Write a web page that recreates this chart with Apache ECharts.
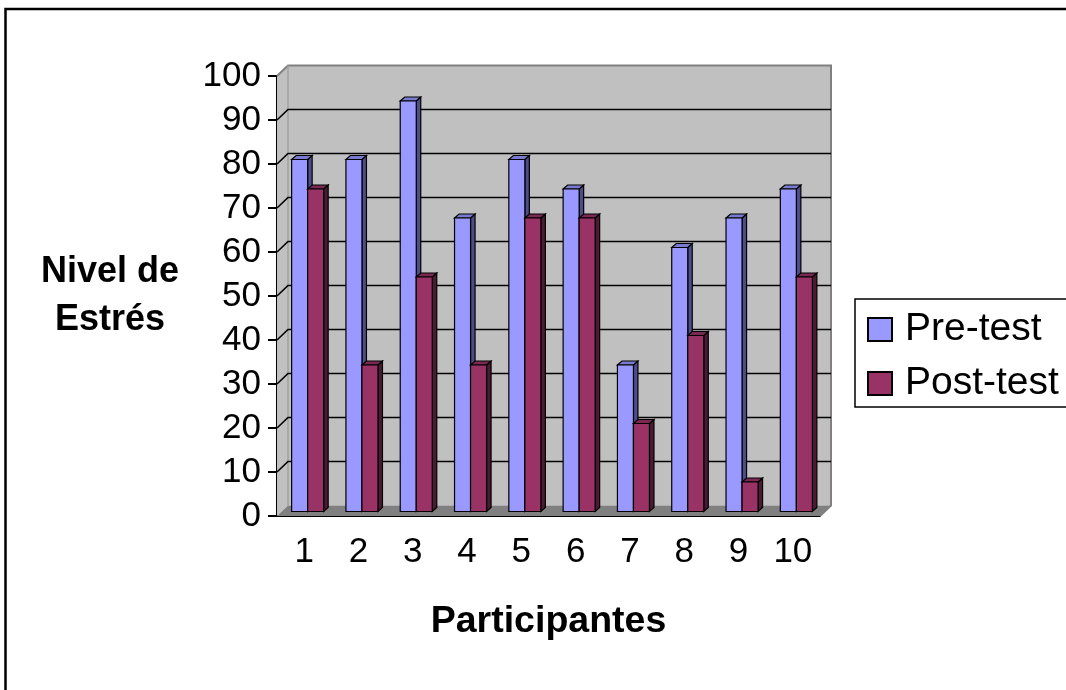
<!DOCTYPE html>
<html>
<head>
<meta charset="utf-8">
<script src="https://cdn.jsdelivr.net/npm/echarts@6/dist/echarts.min.js"></script>
<style>
  html, body { margin: 0; padding: 0; background: #fff; }
  #chart { width: 1066px; height: 690px; }
</style>
</head>
<body>
<div id="chart"></div>
<script>
// Participants and stress levels before and after the programme
const categories = ['1', '2', '3', '4', '5', '6', '7', '8', '9', '10'];
const preTest  = [80, 80, 93.3, 66.7, 80, 73.3, 33.3, 60, 66.7, 73.3];
const postTest = [73.3, 33.3, 53.3, 33.3, 66.7, 66.7, 20, 40, 6.7, 53.3];
// Levels that get a line on the back wall
const wallLevels = [10, 20, 30, 40, 50, 60, 70, 80, 90];

const FONT = "'Liberation Sans', Arial, sans-serif";

// Pseudo-3D offsets (pixels): front plane -> back wall, bar placement, bar depth
const WALL = [11, -10.5];
const BAR_SHIFT = [3.5, -4.5];
const BAR_DEPTH = [4.5, -4];

const palette = {
  pre:  { front: '#9999FF', top: '#7A7AD0', side: '#4D4D8A' },
  post: { front: '#993366', top: '#7A2952', side: '#4C1A33' }
};

function renderWalls(params, api) {
  const cs = params.coordSys;
  const x0 = cs.x, x1 = cs.x + cs.width;
  const yTop = api.coord([0, 100])[1];
  const yBot = api.coord([0, 0])[1];
  const bx0 = x0 + WALL[0], bx1 = x1 + WALL[0];
  const byTop = yTop + WALL[1], byBot = yBot + WALL[1];
  const children = [
    { type: 'polygon', shape: { points: [[bx0, byTop], [bx1, byTop], [bx1, byBot], [bx0, byBot]] },
      style: { fill: '#C0C0C0', stroke: 'none' } },
    { type: 'polygon', shape: { points: [[x0, yTop], [bx0, byTop], [bx0, byBot], [x0, yBot]] },
      style: { fill: '#C0C0C0', stroke: 'none' } },
    { type: 'polygon', shape: { points: [[x0, yBot], [bx0, byBot], [bx1, byBot], [x1, yBot]] },
      style: { fill: '#808080', stroke: 'none' } },
    { type: 'polyline', shape: { points: [[x0, yTop], [bx0, byTop], [bx1, byTop], [bx1, byBot], [x1, yBot]] },
      style: { fill: 'none', stroke: '#808080', lineWidth: 2 } },
    { type: 'line', shape: { x1: bx0, y1: byTop, x2: bx0, y2: byBot },
      style: { stroke: '#A0A0A0', lineWidth: 1.5 } }
  ];
  wallLevels.forEach(function (lv) {
    const y = api.coord([0, lv])[1];
    children.push({
      type: 'polyline',
      shape: { points: [[x0, y], [bx0, y + WALL[1]], [bx1, y + WALL[1]]] },
      style: { fill: 'none', stroke: '#000', lineWidth: 1.6 }
    });
  });
  return { type: 'group', children: children };
}

function barRenderer(side, colors) {
  return function (params, api) {
    const idx = api.value(0), val = api.value(1);
    const top = api.coord([idx, val]);
    const base = api.coord([idx, 0]);
    const w = api.size([1, 0])[0] * 0.295;
    const cx = top[0] + BAR_SHIFT[0];
    const x0 = side < 0 ? cx - w : cx;
    const x1 = x0 + w;
    const yT = top[1] + BAR_SHIFT[1];
    const yB = base[1] + BAR_SHIFT[1];
    const dx = BAR_DEPTH[0], dy = BAR_DEPTH[1];
    const edge = { stroke: '#000', lineWidth: 1.2, lineJoin: 'miter' };
    return {
      type: 'group',
      children: [
        { type: 'polygon', shape: { points: [[x1, yT], [x1 + dx, yT + dy], [x1 + dx, yB + dy], [x1, yB]] },
          style: Object.assign({ fill: colors.side }, edge) },
        { type: 'polygon', shape: { points: [[x0, yT], [x0 + dx, yT + dy], [x1 + dx, yT + dy], [x1, yT]] },
          style: Object.assign({ fill: colors.top }, edge) },
        { type: 'rect', shape: { x: x0, y: yT, width: w, height: yB - yT },
          style: Object.assign({ fill: colors.front }, edge) }
      ]
    };
  };
}

const chart = echarts.init(document.getElementById('chart'), null, { renderer: 'canvas' });

chart.setOption({
  animation: false,
  backgroundColor: '#fff',
  graphic: [{
    type: 'rect', z: 0,
    shape: { x: 5.5, y: 9, width: 1100, height: 720 },
    style: { fill: 'none', stroke: '#000', lineWidth: 2.5 }
  }],
  grid: { left: 277, right: 246, top: 76, bottom: 174 },
  legend: {
    data: ['Pre-test', 'Post-test'],
    orient: 'vertical',
    left: 855, top: 299,
    padding: [10, 10, 3, 12],
    itemGap: 13,
    itemWidth: 24, itemHeight: 23,
    icon: 'rect',
    borderColor: '#000', borderWidth: 1.5,
    textStyle: { fontFamily: FONT, fontSize: 39, color: '#000', lineHeight: 41, padding: [0, 0, 0, 8] }
  },
  xAxis: {
    type: 'category',
    data: categories,
    boundaryGap: true,
    name: 'Participantes',
    nameLocation: 'middle',
    nameGap: 87,
    nameTextStyle: { fontFamily: FONT, fontSize: 37.5, fontWeight: 'bold', color: '#000' },
    axisLine: { lineStyle: { color: '#000', width: 2 } },
    axisTick: { length: 8, lineStyle: { color: '#000', width: 2 } },
    axisLabel: { fontFamily: FONT, fontSize: 35, color: '#000', margin: 19 },
    splitLine: { show: false }
  },
  yAxis: {
    type: 'value',
    min: 0, max: 100, interval: 10,
    name: 'Nivel de\nEstrés',
    nameLocation: 'middle',
    nameRotate: 0,
    nameGap: 167,
    nameTextStyle: {
      fontFamily: FONT, fontSize: 36, fontWeight: 'bold', color: '#000',
      lineHeight: 48, align: 'center', verticalAlign: 'middle', padding: [0, 0, 12, 0]
    },
    axisLine: { show: true, lineStyle: { color: '#000', width: 2 } },
    axisTick: { show: true, length: 9, lineStyle: { color: '#000', width: 2 } },
    axisLabel: { fontFamily: FONT, fontSize: 35, color: '#000', margin: 16 },
    splitLine: { show: false }
  },
  series: [
    {
      name: 'walls', type: 'custom', z: 1, silent: true,
      data: [[0, 0]], encode: { x: 0, y: 1 },
      renderItem: renderWalls
    },
    {
      name: 'Pre-test', type: 'custom', z: 3,
      itemStyle: { color: palette.pre.front, borderColor: '#000', borderWidth: 1 },
      data: preTest.map(function (v, i) { return [i, v]; }),
      encode: { x: 0, y: 1 },
      renderItem: barRenderer(-1, palette.pre)
    },
    {
      name: 'Post-test', type: 'custom', z: 4,
      itemStyle: { color: palette.post.front, borderColor: '#000', borderWidth: 1 },
      data: postTest.map(function (v, i) { return [i, v]; }),
      encode: { x: 0, y: 1 },
      renderItem: barRenderer(1, palette.post)
    }
  ]
});
</script>
</body>
</html>
